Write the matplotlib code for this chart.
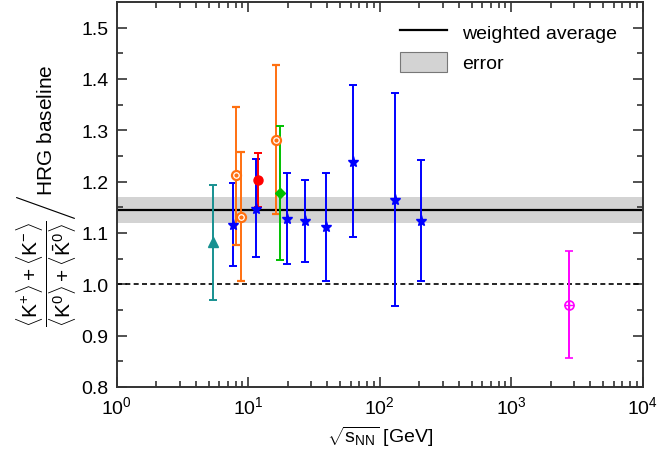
import numpy as np
import matplotlib
matplotlib.use('Agg')
import matplotlib.pyplot as plt
from matplotlib.lines import Line2D
from matplotlib.patches import Patch

plt.rcParams['font.family'] = ['Liberation Sans', 'DejaVu Sans']
plt.rcParams['mathtext.fontset'] = 'custom'
plt.rcParams['mathtext.rm'] = 'Liberation Sans'
plt.rcParams['mathtext.it'] = 'Liberation Sans'
plt.rcParams['mathtext.bf'] = 'Liberation Sans:bold'

# data (sqrt(s_NN) in GeV, ratio, lower/upper error)
star_x = [7.6, 11.5, 19.6, 27.0, 38.8, 62.7, 131.6, 204.0]
star_y = [1.116, 1.147, 1.128, 1.123, 1.111, 1.239, 1.164, 1.123]
star_lo = [1.035, 1.053, 1.040, 1.044, 1.007, 1.092, 0.958, 1.007]
star_hi = [1.197, 1.244, 1.217, 1.203, 1.217, 1.389, 1.372, 1.243]

tri_x = [5.4]
tri_y = [1.083]
tri_lo = [0.969]
tri_hi = [1.193]

open_x = [8.1, 8.77, 16.3]
open_y = [1.212, 1.132, 1.282]
open_lo = [1.077, 1.007, 1.137]
open_hi = [1.345, 1.258, 1.427]

red_x = [11.9]
red_y = [1.203]
red_lo = [1.150]
red_hi = [1.256]

dia_x = [17.3]
dia_y = [1.178]
dia_lo = [1.047]
dia_hi = [1.308]

alice_x = [2760.0]
alice_y = [0.960]
alice_lo = [0.857]
alice_hi = [1.064]

w_avg = 1.145
w_err = 0.026

fig = plt.figure(figsize=(6.64, 4.64), dpi=100)
ax = fig.add_axes([0.176, 0.164, 0.792, 0.8295])

ax.axhspan(w_avg - w_err, w_avg + w_err, color='#d3d3d3', lw=0, zorder=1)
ax.axhline(w_avg, color='black', lw=1.6, zorder=2)
ax.axhline(1.0, color='black', lw=1.2, ls=(0, (3, 2)), zorder=2)


def errs(y, lo, hi):
    y = np.array(y)
    return [y - np.array(lo), np.array(hi) - y]


ekw = dict(ls='none', capsize=3, elinewidth=1.4, capthick=1.4, zorder=3)

ax.errorbar(tri_x, tri_y, yerr=errs(tri_y, tri_lo, tri_hi), color='#179090',
            marker='^', ms=7.5, **ekw)
ax.errorbar(star_x, star_y, yerr=errs(star_y, star_lo, star_hi), color='#0000ff',
            marker='*', ms=8, **ekw)
ax.errorbar(open_x, open_y, yerr=errs(open_y, open_lo, open_hi), color='#ff7010',
            marker='o', ms=6.5, mfc='white', mew=1.6, **ekw)
ax.plot(open_x, open_y, ls='none', marker='o', ms=2, color='#ff7010', zorder=4)
ax.errorbar(red_x, red_y, yerr=errs(red_y, red_lo, red_hi), color='#ff0000',
            marker='o', ms=6.5, **ekw)
ax.errorbar(dia_x, dia_y, yerr=errs(dia_y, dia_lo, dia_hi), color='#00c000',
            marker='D', ms=5.5, **ekw)
ax.errorbar(alice_x, alice_y, yerr=errs(alice_y, alice_lo, alice_hi), color='#ff00ff',
            marker='o', ms=6.5, mfc='none', mew=1.2, **ekw)
ax.plot(alice_x, alice_y, ls='none', marker='+', ms=6.5, mew=1.0, color='#ff00ff', zorder=4)

ax.set_xscale('log')
ax.set_xlim(1, 1e4)
ax.set_ylim(0.8, 1.55)
ax.set_yticks([0.8, 0.9, 1.0, 1.1, 1.2, 1.3, 1.4, 1.5])
ax.set_yticks(np.arange(0.85, 1.55, 0.1), minor=True)
ax.yaxis.set_major_formatter(matplotlib.ticker.FormatStrFormatter('%.1f'))

ax.tick_params(which='both', direction='in', top=True, right=True, labelsize=14,
               width=1.2, colors='#333333', labelcolor='black')
ax.tick_params(which='major', length=7)
ax.tick_params(which='minor', length=4)
ax.tick_params(axis='x', which='major', pad=6)
ax.tick_params(axis='y', which='major', pad=6)
for s in ax.spines.values():
    s.set_linewidth(1.4)
    s.set_color('#333333')

ax.set_xlabel(r'$\sqrt{s_{\mathrm{NN}}}$ [GeV]', fontsize=14, labelpad=5)
ax.set_ylabel(r'$\left.\dfrac{\langle \mathrm{K}^{+}\rangle + \langle \mathrm{K}^{-}\rangle}'
              r'{\langle \mathrm{K}^{0}\rangle + \langle \bar{\mathrm{K}}^{0}\rangle}\right/$'
              r'HRG baseline', fontsize=15, labelpad=2)

handles = [Line2D([], [], color='black', lw=1.6),
           Patch(facecolor='#d3d3d3', edgecolor='#777777', lw=0.8)]
ax.legend(handles, ['weighted average', 'error'], loc='upper right', frameon=False,
          fontsize=14, handlelength=2.4, handleheight=1.2, borderaxespad=0.5,
          bbox_to_anchor=(0.985, 0.995))

fig.savefig('out.png', dpi=100)
